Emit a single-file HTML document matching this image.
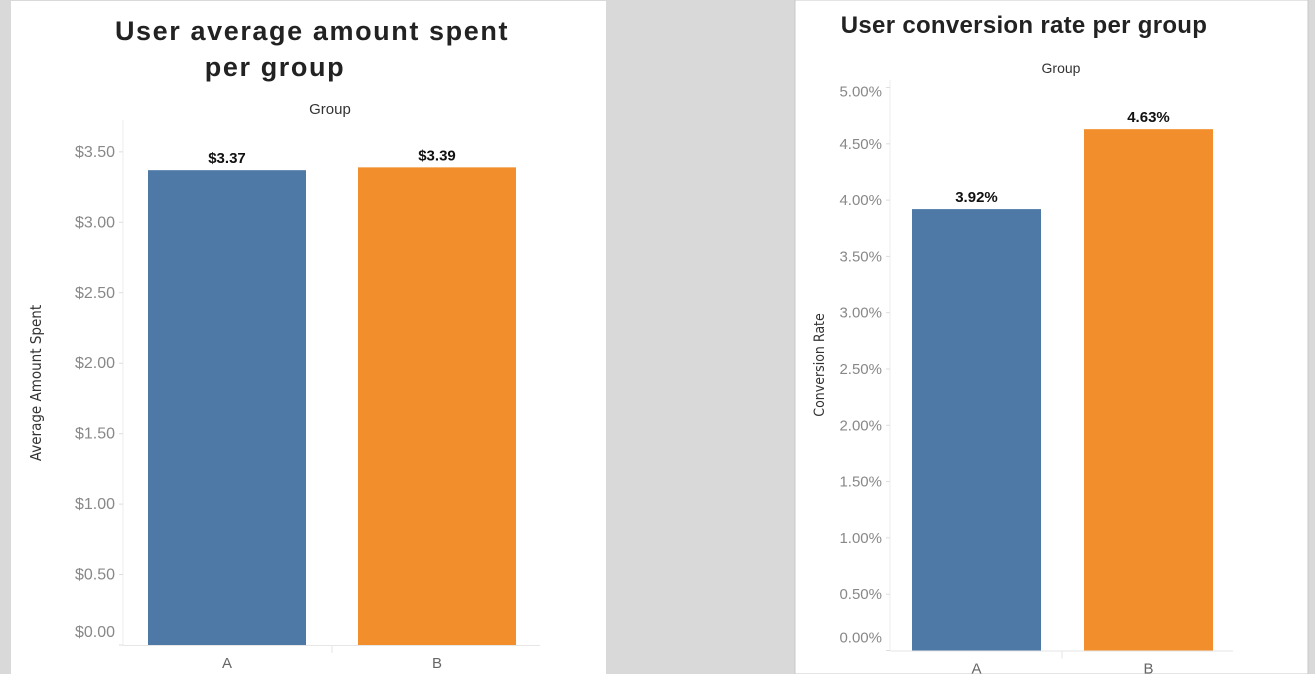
<!DOCTYPE html>
<html><head><meta charset="utf-8"><style>
body{margin:0;width:1315px;height:674px;background:#d9d9d9;overflow:hidden;font-family:"Liberation Sans",sans-serif}
svg{position:absolute;left:0;top:0}
</style></head><body>
<svg width="1315" height="674" id="s">
<rect x="11" y="1" width="595" height="673" fill="#fff"/>
<rect x="795" y="0" width="513" height="674" fill="#fff" stroke="#c8c8c8"/>
<g font-family="Liberation Sans, sans-serif">
<text x="312" y="40" text-anchor="middle" font-size="27" font-weight="bold" letter-spacing="1.6" fill="#222">User average amount spent</text>
<text x="275" y="76" text-anchor="middle" font-size="27" font-weight="bold" letter-spacing="1.6" fill="#222">per group</text>
<text x="330" y="114" text-anchor="middle" font-size="15" fill="#333">Group</text>
<text transform="translate(41,383) rotate(-90)" text-anchor="middle" font-size="15" fill="#333" font-family="DejaVu Sans Condensed, Liberation Sans Narrow, sans-serif">Average Amount Spent</text>
<text x="1024" y="33" text-anchor="middle" font-size="24" font-weight="bold" letter-spacing="0.3" fill="#222">User conversion rate per group</text>
<text x="1061" y="73" text-anchor="middle" font-size="14" fill="#333">Group</text>
<text transform="translate(824,365) rotate(-90)" text-anchor="middle" font-size="14" fill="#333" font-family="DejaVu Sans Condensed, Liberation Sans Narrow, sans-serif">Conversion Rate</text>
</g>
<g id="left"></g><g id="right"></g>
</svg>
<script>
const categories=["A","B"];
const spentValues=[3.37,3.39];
const spentTicks=[0,0.5,1,1.5,2,2.5,3,3.5];
const convValues=[3.92,4.63];
const convTicks=[0,0.5,1,1.5,2,2.5,3,3.5,4,4.5,5];
const colors=["#4e79a7","#f28e2b"];
const NS="http://www.w3.org/2000/svg";
function mk(p,t,a,txt){const e=document.createElementNS(NS,t);for(const k in a)e.setAttribute(k,a[k]);if(txt!=null)e.textContent=txt;p.appendChild(e);return e;}
function draw(g,cfg){
  const y=v=>cfg.y0-v*cfg.scale;
  let l=mk(g,'line',{x1:cfg.ax,x2:cfg.ax,y1:cfg.top,y2:cfg.y0,stroke:'#eee'});
  
  
  l=mk(g,'line',{x1:cfg.ax,x2:cfg.right,y1:cfg.y0+0.5,y2:cfg.y0+0.5,stroke:'#e6e6e6'});
  
  
  l=mk(g,'line',{x1:cfg.div,x2:cfg.div,y1:cfg.y0,y2:cfg.y0+8,stroke:'#e6e6e6'});
  
  
  cfg.ticks.forEach(t=>{
    let ty=y(t);
    const tk=mk(g,'line',{x1:cfg.ax-4,x2:cfg.ax,y1:ty,y2:ty,stroke:'#ddd'});
    
    
    let ly=ty+5;
    if(t===cfg.ticks[0])ly=ty-8;
    if(t===cfg.ticks[cfg.ticks.length-1]&&cfg.pct)ly=ty+9;
    const tx=mk(g,'text',{x:cfg.ax-8,y:ly,'text-anchor':'end','font-size':cfg.fs,fill:'#888'},cfg.fmt(t));
    
    
  });
  cfg.vals.forEach((v,i)=>{
    const x=cfg.bx[i];
    const r=mk(g,'rect',{x:x,y:y(v),width:cfg.bw,height:cfg.y0-y(v),fill:colors[i]});
    
    
    const lb=mk(g,'text',{x:x+cfg.bw/2,y:y(v)-7,'text-anchor':'middle','font-size':15,'font-weight':'bold',fill:'#111'},cfg.lab(v));
    
    
    const cl=mk(g,'text',{x:x+cfg.bw/2,y:cfg.y0+23,'text-anchor':'middle','font-size':15,fill:'#666'},categories[i]);
    
    
  });
}
draw(document.getElementById('left'),{y0:645,scale:140.9,ax:123,right:540,div:332,top:120,fs:16,ticks:spentTicks,vals:spentValues,bx:[148,358],bw:158,fmt:t=>'$'+t.toFixed(2),lab:v=>'$'+v.toFixed(2)});
draw(document.getElementById('right'),{y0:650.5,scale:112.6,ax:890,right:1233,div:1062,top:80,pct:true,fs:15,ticks:convTicks,vals:convValues,bx:[912,1084],bw:129,fmt:t=>t.toFixed(2)+'%',lab:v=>v.toFixed(2)+'%'});
</script>
</body></html>
